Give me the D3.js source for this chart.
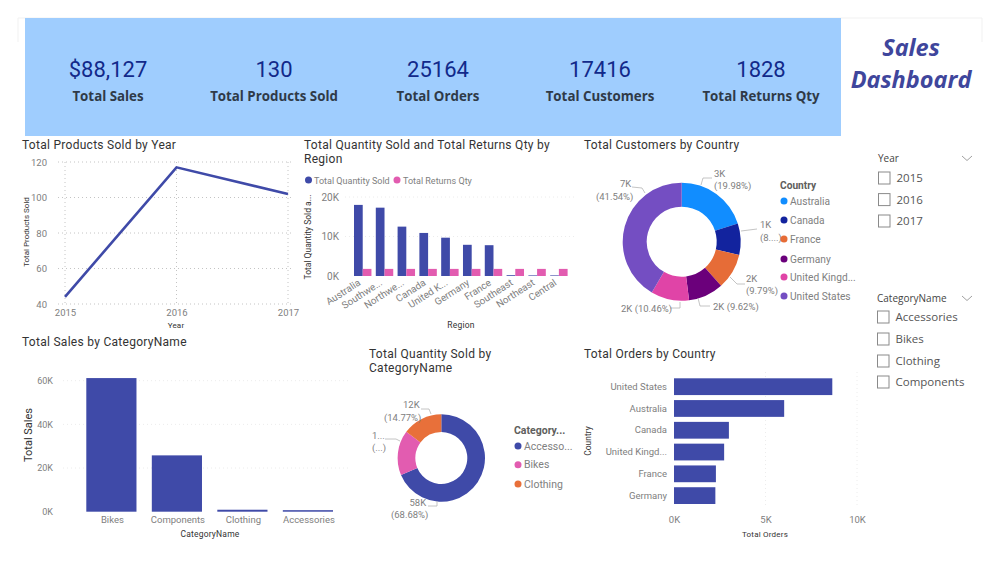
<html>

<head>
    <script src="https://d3js.org/d3.v7.min.js"></script>
</head>

<body style="margin:0;background:white">
    <svg></svg>
    <script>
        // kpi band
        const kpiValues = ["$88,127", "130", "25164", "17416", "1828"]
        const kpiLabels = ["Total Sales", "Total Products Sold", "Total Orders", "Total Customers", "Total Returns Qty"]

        // line chart
        const years = ["2015", "2016", "2017"]
        const productsSold = [44, 117, 102]

        // grouped bars
        const regions = ["Australia", "Southwe...", "Northwe...", "Canada", "United K...", "Germany", "France", "Southeast", "Northeast", "Central"]
        const quantitySold = [18000, 17300, 12500, 10900, 9700, 7900, 7800, 200, 150, 150]
        const returnsQty = [1800, 1800, 1800, 1800, 1800, 1800, 1800, 1800, 1800, 1800]

        // customers donut
        const customerCountries = ["Australia", "Canada", "France", "Germany", "United Kingd...", "United States"]
        const customerShare = [19.98, 8.61, 9.79, 9.62, 10.46, 41.54]
        const customerLabels = [["3K", "(19.98%)"], ["1K", "(8....)"], ["2K", "(9.79%)"], ["2K (9.62%)"], ["2K (10.46%)"], ["7K", "(41.54%)"]]

        // sales bars
        const salesCategories = ["Bikes", "Components", "Clothing", "Accessories"]
        const salesValues = [61200, 25800, 900, 700]

        // quantity donut
        const quantityCategories = ["Accesso...", "Bikes", "Clothing"]
        const quantityShare = [68.68, 16.55, 14.77]
        const quantityLabels = [["58K", "(68.68%)"], ["1...", "(...)"], ["12K", "(14.77%)"]]

        // orders bars
        const orderCountries = ["United States", "Australia", "Canada", "United Kingd...", "France", "Germany"]
        const orderValues = [8650, 6020, 3000, 2740, 2290, 2260]

        // slicers
        const slicerYears = ["2015", "2016", "2017"]
        const slicerCategories = ["Accessories", "Bikes", "Clothing", "Components"]

        const width = 1000
        const height = 578
        const blue = "#3f4aa8"
        const pink = "#e25cb0"
        const orange = "#e8703a"
        const customerColors = ["#118dff", "#12239e", "#e66c37", "#6b007b", "#e044a7", "#744ec2"]
        const quantityColors = [blue, pink, orange]
        const din = "Roboto, sans-serif"
        const segoe = "'Open Sans', sans-serif"
        const grey = "#808080"
        const kFormat = d => d / 1000 + "K"

        const svg = d3.select("svg")
            .attr("width", width)
            .attr("height", height)
            .attr("viewBox", [0, 0, width, height])
            .style("display", "block")

        function addText(x, y, str, size, fill, opts = {}) {
            return svg.append("text")
                .attr("x", x)
                .attr("y", y)
                .attr("font-family", opts.family || din)
                .attr("font-size", size)
                .attr("font-weight", opts.weight || "normal")
                .attr("font-style", opts.style || "normal")
                .attr("letter-spacing", opts.spacing || 0)
                .attr("text-anchor", opts.anchor || "start")
                .attr("fill", fill)
                .attr("transform", opts.rotate ? `rotate(-90,${x},${y})` : null)
                .text(str)
        }

        const addTitle = (x, y, str) => addText(x, y, str, 12, "#333", { spacing: 0.28 })
        const addAxisTitle = (x, y, str, size = 8.5) => addText(x, y, str, size, "#333", { anchor: "middle", spacing: 0.2 })
        const addYTitle = (x, y, str, size = 8.5) => addText(x, y, str, size, "#333", { anchor: "middle", rotate: true })

        // style a d3 axis group the way the dashboard does
        function cleanAxis(g, size = 9.5) {
            g.select(".domain").remove()
            g.selectAll(".tick line").remove()
            g.selectAll("text").attr("font-family", din).attr("font-size", size).attr("fill", grey)
        }

        function gridLines(x1, x2, ys, color = "#d9d9d9") {
            svg.append("g").selectAll("line").data(ys).join("line")
                .attr("x1", x1).attr("x2", x2)
                .attr("y1", d => d).attr("y2", d => d)
                .attr("stroke", color)
                .attr("stroke-dasharray", "1 3")
        }

        // outer frame and kpi band
        svg.append("path")
            .attr("d", "M18,42V18H982V42")
            .attr("fill", "none")
            .attr("stroke", "#f1f1f1")
        svg.append("rect")
            .attr("x", 25).attr("y", 18)
            .attr("width", 816).attr("height", 118)
            .attr("fill", "#9fcdfe")

        const kpiCenters = [108, 274, 438, 600, 761]
        kpiLabels.forEach((label, i) => {
            addText(kpiCenters[i], 77, kpiValues[i], 22, "#12298a", { anchor: "middle", spacing: 0 })
            addText(kpiCenters[i], 101, label, 13.3, "#2f3a48", { anchor: "middle", family: segoe, weight: 700 })
        })

        addText(911, 56, "Sales", 23.5, "#3f469c", { anchor: "middle", family: segoe, weight: 700, style: "italic" })
        addText(911, 88, "Dashboard", 23.5, "#3f469c", { anchor: "middle", family: segoe, weight: 700, style: "italic" })

        // Total Products Sold by Year
        addTitle(22, 149, "Total Products Sold by Year")
        const lineX = d3.scalePoint().domain(years).range([65, 288])
        const lineY = d3.scaleLinear().domain([40, 120]).range([304, 162])
        gridLines(58, 291, lineY.ticks(4).map(lineY), "#c4c4c4")
        svg.append("g").selectAll("line").data(years).join("line")
            .attr("x1", lineX).attr("x2", lineX)
            .attr("y1", 162).attr("y2", 304)
            .attr("stroke", "#c4c4c4")
            .attr("stroke-dasharray", "1 3")
        svg.append("g")
            .attr("transform", "translate(50,0)")
            .call(d3.axisLeft(lineY).ticks(4).tickSize(0))
            .call(cleanAxis, 9.5)
        svg.append("g")
            .attr("transform", "translate(0,306)")
            .call(d3.axisBottom(lineX).tickSize(0))
            .call(cleanAxis, 9.5)
        const line = d3.line().x((d, i) => lineX(years[i])).y(d => lineY(d))
        svg.append("path")
            .attr("d", line(productsSold))
            .attr("fill", "none")
            .attr("stroke", blue)
            .attr("stroke-width", 2.6)
        addAxisTitle(176, 328, "Year", 8)
        addYTitle(29, 232, "Total Products Sold", 8)

        // Total Quantity Sold and Total Returns Qty by Region
        addTitle(304, 149, "Total Quantity Sold and Total Returns Qty by")
        addTitle(304, 163, "Region")
        svg.append("circle").attr("cx", 308.5).attr("cy", 180).attr("r", 3.5).attr("fill", blue)
        addText(314, 183.5, "Total Quantity Sold", 9, grey)
        svg.append("circle").attr("cx", 397).attr("cy", 180).attr("r", 3.5).attr("fill", pink)
        addText(403, 183.5, "Total Returns Qty", 9, grey)
        const regionX = d3.scaleBand().domain(regions).range([354, 567.6]).paddingInner(0.2)
        const regionY = d3.scaleLinear().domain([0, 20000]).range([276, 197])
        gridLines(345, 575, regionY.ticks(2).slice(1).map(regionY), "#ececec")
        svg.append("g")
            .attr("transform", "translate(342,0)")
            .call(d3.axisLeft(regionY).ticks(2).tickSize(0).tickFormat(kFormat))
            .call(cleanAxis, 10)
        svg.append("g").selectAll("rect").data(quantitySold).join("rect")
            .attr("x", (d, i) => regionX(regions[i]))
            .attr("y", d => regionY(d))
            .attr("width", regionX.bandwidth() / 2)
            .attr("height", d => regionY(0) - regionY(d))
            .attr("fill", blue)
        svg.append("g").selectAll("rect").data(returnsQty).join("rect")
            .attr("x", (d, i) => regionX(regions[i]) + regionX.bandwidth() / 2)
            .attr("y", d => regionY(d))
            .attr("width", regionX.bandwidth() / 2)
            .attr("height", d => regionY(0) - regionY(d))
            .attr("fill", pink)
        svg.append("g")
            .attr("transform", "translate(0,276)")
            .call(d3.axisBottom(regionX).tickSize(0))
            .call(cleanAxis, 9.8)
            .call(g => g.selectAll("text")
                .attr("text-anchor", "end")
                .attr("transform", "translate(-7,0) rotate(-33)"))
        addAxisTitle(461, 328, "Region", 8.5)
        addYTitle(311, 237, "Total Quantity Sold a...", 8.5)

        // shared donut drawing
        function donut(cx, cy, rOuter, rInner, values, colors) {
            const arc = d3.arc().innerRadius(rInner).outerRadius(rOuter)
            svg.append("g")
                .attr("transform", `translate(${cx},${cy})`)
                .selectAll("path")
                .data(d3.pie().sort(null)(values))
                .join("path")
                .attr("d", arc)
                .attr("fill", (d, i) => colors[i])
        }

        function leader(points) {
            svg.append("path")
                .attr("d", d3.line()(points))
                .attr("fill", "none")
                .attr("stroke", "#b5b5b5")
                .attr("stroke-width", 0.8)
        }

        function legend(x, title, titleY, names, ys, colors, size) {
            addText(x - 4, titleY, title, size, "#605e5c", { weight: 700 })
            names.forEach((name, i) => {
                svg.append("circle").attr("cx", x).attr("cy", ys[i]).attr("r", 3.5).attr("fill", colors[i])
                addText(x + 6, ys[i] + 3.5, name, size, grey)
            })
        }

        // each label line is placed by hand, same as the leaders
        function donutLabels(labels, spots) {
            labels.forEach((lines, i) => {
                lines.forEach((str, j) => addText(spots[i][j][0], spots[i][j][1], str, 9.5, grey))
            })
        }

        // Total Customers by Country
        addTitle(584, 149, "Total Customers by Country")
        donut(681.7, 241.7, 59, 35, customerShare, customerColors)
        const customerLeaders = [
            [[701, 185], [703, 178], [712, 178]],
            [[741, 231], [749, 230], [757, 229]],
            [[730, 277], [737, 284], [745, 284]],
            [[698, 298], [700, 306], [710, 306]],
            [[680, 302], [680, 308], [670, 308]],
            [[645, 193], [642, 188], [632, 187]]
        ]
        customerLeaders.forEach(leader)
        donutLabels(customerLabels, [
            [[714, 177], [714, 189]],
            [[760, 228], [760, 241]],
            [[746, 282], [746, 294]],
            [[713, 310]],
            [[621, 312]],
            [[620, 187], [596, 200]]
        ])
        legend(784, "Country", 188.5, customerCountries, [201, 220, 239, 259, 277, 296], customerColors, 10.2)

        // Total Sales by CategoryName
        addTitle(22, 346, "Total Sales by CategoryName")
        const salesX = d3.scaleBand().domain(salesCategories).range([86.3, 333]).paddingInner(0.234)
        const salesY = d3.scaleLinear().domain([0, 60000]).range([511.7, 380.7])
        gridLines(63, 348, salesY.ticks(3).slice(1).map(salesY), "#ececec")
        svg.append("g").selectAll("rect").data(salesValues).join("rect")
            .attr("x", (d, i) => salesX(salesCategories[i]))
            .attr("y", d => salesY(d))
            .attr("width", salesX.bandwidth())
            .attr("height", d => salesY(0) - salesY(d))
            .attr("fill", blue)
        svg.append("g")
            .attr("transform", "translate(56,0)")
            .call(d3.axisLeft(salesY).ticks(3).tickSize(0).tickFormat(kFormat))
            .call(cleanAxis, 9)
        svg.append("g")
            .attr("transform", "translate(1,513)")
            .call(d3.axisBottom(salesX).tickSize(0))
            .call(cleanAxis, 9.5)
        addAxisTitle(210, 537, "CategoryName", 8.5)
        addYTitle(32, 435, "Total Sales", 11)

        // Total Quantity Sold by CategoryName
        addTitle(369, 358, "Total Quantity Sold by")
        addTitle(369, 372, "CategoryName")
        donut(441.3, 458, 43.7, 26, quantityShare, quantityColors)
        const quantityLeaders = [
            [[437, 501], [437, 506], [428, 506]],
            [[400, 441], [396, 439], [385, 439]],
            [[431, 414], [429, 409], [421, 409]]
        ]
        quantityLeaders.forEach(leader)
        donutLabels(quantityLabels, [
            [[409.5, 506], [391, 518]],
            [[372, 439], [372, 451]],
            [[403, 408], [384, 421]]
        ])
        legend(518, "Category...", 433.5, quantityCategories, [446, 464.7, 484], quantityColors, 10.5)

        // Total Orders by Country
        addTitle(584, 358, "Total Orders by Country")
        const orderX = d3.scaleLinear().domain([0, 10000]).range([674, 857])
        const orderY = d3.scaleBand().domain(orderCountries).range([378.3, 504]).paddingInner(0.23)
        svg.append("g").selectAll("line").data(orderX.ticks(2).slice(1)).join("line")
            .attr("x1", orderX).attr("x2", orderX)
            .attr("y1", 372).attr("y2", 508)
            .attr("stroke", "#ececec")
            .attr("stroke-dasharray", "1 3")
        svg.append("g").selectAll("rect").data(orderValues).join("rect")
            .attr("x", orderX(0))
            .attr("y", (d, i) => orderY(orderCountries[i]))
            .attr("width", d => orderX(d) - orderX(0))
            .attr("height", orderY.bandwidth())
            .attr("fill", blue)
        svg.append("g")
            .attr("transform", "translate(670,0)")
            .call(d3.axisLeft(orderY).tickSize(0))
            .call(cleanAxis, 9.5)
        svg.append("g")
            .attr("transform", "translate(0,513)")
            .call(d3.axisBottom(orderX).ticks(2).tickSize(0).tickFormat(kFormat))
            .call(cleanAxis, 9.5)
        addAxisTitle(765, 537, "Total Orders", 8)
        addYTitle(591, 441, "Country", 8.5)

        // slicers
        function slicer(x, titleY, title, items, ys) {
            addText(x, titleY, title, 10, "#444", { family: segoe })
            svg.append("path")
                .attr("d", d3.line()([[962, titleY - 6], [967, titleY - 1.5], [972, titleY - 6]]))
                .attr("fill", "none")
                .attr("stroke", "#888")
                .attr("stroke-width", 0.8)
            items.forEach((item, i) => {
                svg.append("rect")
                    .attr("x", x + 0.5).attr("y", ys[i] - 6)
                    .attr("width", 11.5).attr("height", 12)
                    .attr("fill", "white")
                    .attr("stroke", "#8a8a8a")
                addText(x + 18.5, ys[i] + 4, item, 11.5, "#555", { family: segoe })
            })
        }
        slicer(878, 162, "Year", slicerYears, [178, 199.6, 221])
        slicer(877, 302, "CategoryName", slicerCategories, [317, 339, 361, 382])
    </script>
</body>


</html>
